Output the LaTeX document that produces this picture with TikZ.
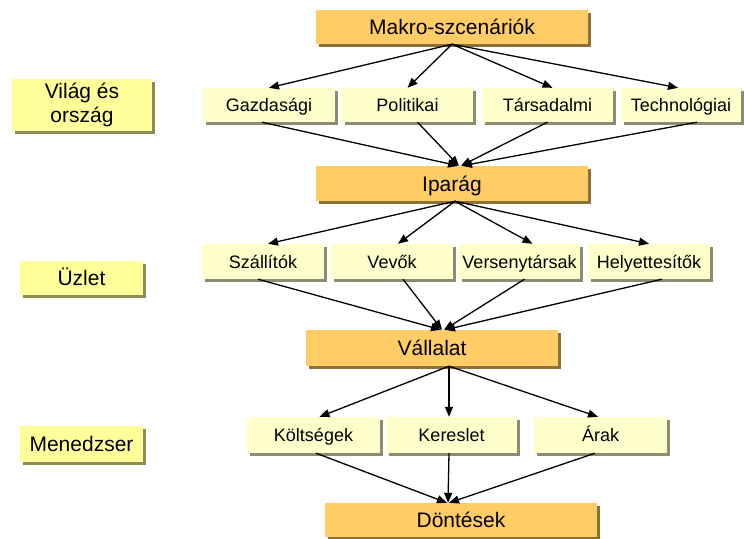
\documentclass[tikz,border=0pt]{standalone}
\usepackage{fontspec}
\setmainfont{Liberation Sans}
\usetikzlibrary{arrows.meta,shadows}

\definecolor{hubfill}{HTML}{FFCC66}
\definecolor{itemfill}{HTML}{FFFFCC}
\definecolor{levelfill}{HTML}{FFFF99}

\tikzset{
  box/.style={inner sep=0pt, fill=#1, drop shadow={shadow xshift=3pt, shadow yshift=-3pt, fill=#1!55!black, opacity=1}},
  hub/.style={box=hubfill, text height=15pt, text depth=0pt, font=\fontsize{21}{24}\selectfont},
  item/.style={box=itemfill, minimum height=34pt, text height=13pt, text depth=0pt, font=\fontsize{18}{21}\selectfont},
  level/.style={box=levelfill, align=center, font=\fontsize{21}{24}\selectfont},
  arr/.style={line width=1.3pt, -{Triangle[length=10pt,width=8pt]}}
}

\begin{document}
\begin{tikzpicture}[x=1pt, y=-1pt]
            \useasboundingbox (0,0) rectangle (744,538);

            % levels on the left
            \node[level, minimum width=140pt, minimum height=52pt] (vilag) at (82, 105) {Világ és\\ország};
            \node[level, minimum width=123pt, minimum height=34pt, text height=15pt, text depth=0pt] (uzlet) at (81.5, 278) {Üzlet};
            \node[level, minimum width=123pt, minimum height=36pt, text height=15pt, text depth=0pt] (menedzser) at (81.5, 444) {Menedzser};

            % hubs
            \node[hub, minimum width=272pt, minimum height=34pt] (makro) at (452, 27) {Makro-szcenáriók};
            \node[hub, minimum width=272pt, minimum height=35pt] (iparag) at (452, 183.5) {Iparág};
            \node[hub, minimum width=252pt, minimum height=36pt] (vallalat) at (432, 348) {Vállalat};
            \node[hub, minimum width=272pt, minimum height=34pt] (dontesek) at (461, 520) {Döntések};

            % first row
            \node[item, minimum width=132pt] (gazd) at (269, 105) {Gazdasági};
            \node[item, minimum width=131pt] (polit) at (407.5, 105) {Politikai};
            \node[item, minimum width=131pt] (tars) at (547.5, 105) {Társadalmi};
            \node[item, minimum width=120pt] (techn) at (681, 105) {Technológiai};

            % second row
            \node[item, minimum width=122pt, minimum height=35pt] (szall) at (263, 261.5) {Szállítók};
            \node[item, minimum width=122pt, minimum height=35pt] (vevok) at (392, 261.5) {Vevők};
            \node[item, minimum width=121pt, minimum height=35pt] (verseny) at (519.5, 261.5) {Versenytársak};
            \node[item, minimum width=122pt, minimum height=35pt] (helyett) at (649, 261.5) {Helyettesítők};

            % third row
            \node[item, minimum width=133pt, minimum height=36pt] (koltseg) at (313.5, 435) {Költségek};
            \node[item, minimum width=131pt, minimum height=36pt] (kereslet) at (451.5, 435) {Kereslet};
            \node[item, minimum width=133pt, minimum height=36pt] (arak) at (600.5, 435) {Árak};

            \draw[arr] (makro.south) -- (gazd.north); % makro-gazd
            \draw[arr] (makro.south) -- (polit.north); % makro-polit
            \draw[arr] (makro.south) -- ([xshift=5pt]tars.north); % makro-tars
            \draw[arr] (makro.south) -- ([xshift=-3pt]techn.north); % makro-techn

            \draw[arr] ([xshift=-7pt]gazd.south) -- ([xshift=6pt]iparag.north); % gazd-iparag
            \draw[arr] ([xshift=10pt]polit.south) -- ([xshift=7pt]iparag.north); % polit-iparag
            \draw[arr] (tars.south) -- ([xshift=9pt]iparag.north); % tars-iparag
            \draw[arr] ([xshift=16pt]techn.south) -- ([xshift=10pt]iparag.north); % techn-iparag

            \draw[arr] ([xshift=3pt]iparag.south) -- ([xshift=5pt]szall.north); % iparag-szall
            \draw[arr] ([xshift=3pt]iparag.south) -- ([xshift=6pt]vevok.north); % iparag-vevok
            \draw[arr] ([xshift=3pt]iparag.south) -- ([xshift=13pt]verseny.north); % iparag-verseny
            \draw[arr] ([xshift=3pt]iparag.south) -- (helyett.north); % iparag-helyett

            \draw[arr] ([xshift=-5pt]szall.south) -- ([xshift=9pt]vallalat.north); % szall-vallalat
            \draw[arr] ([xshift=11pt]vevok.south) -- ([xshift=10pt]vallalat.north); % vevok-vallalat
            \draw[arr] ([xshift=5pt]verseny.south) -- ([xshift=12pt]vallalat.north); % verseny-vallalat
            \draw[arr] ([xshift=13pt]helyett.south) -- ([xshift=13pt]vallalat.north); % helyett-vallalat

            \draw[arr] ([xshift=17pt]vallalat.south) -- ([xshift=6pt]koltseg.north); % vallalat-koltseg
            \draw[arr] ([xshift=17pt]vallalat.south) -- ([xshift=-2.5pt]kereslet.north); % vallalat-kereslet
            \draw[arr] ([xshift=17pt]vallalat.south) -- ([xshift=-2.5pt]arak.north); % vallalat-arak

            \draw[arr] ([xshift=2.5pt]koltseg.south) -- ([xshift=-14pt]dontesek.north); % koltseg-dontesek
            \draw[arr] ([xshift=-2.5pt]kereslet.south) -- ([xshift=-13pt]dontesek.north); % kereslet-dontesek
            \draw[arr] ([xshift=-5.5pt]arak.south) -- ([xshift=-12pt]dontesek.north); % arak-dontesek
        \end{tikzpicture}
\end{document}
